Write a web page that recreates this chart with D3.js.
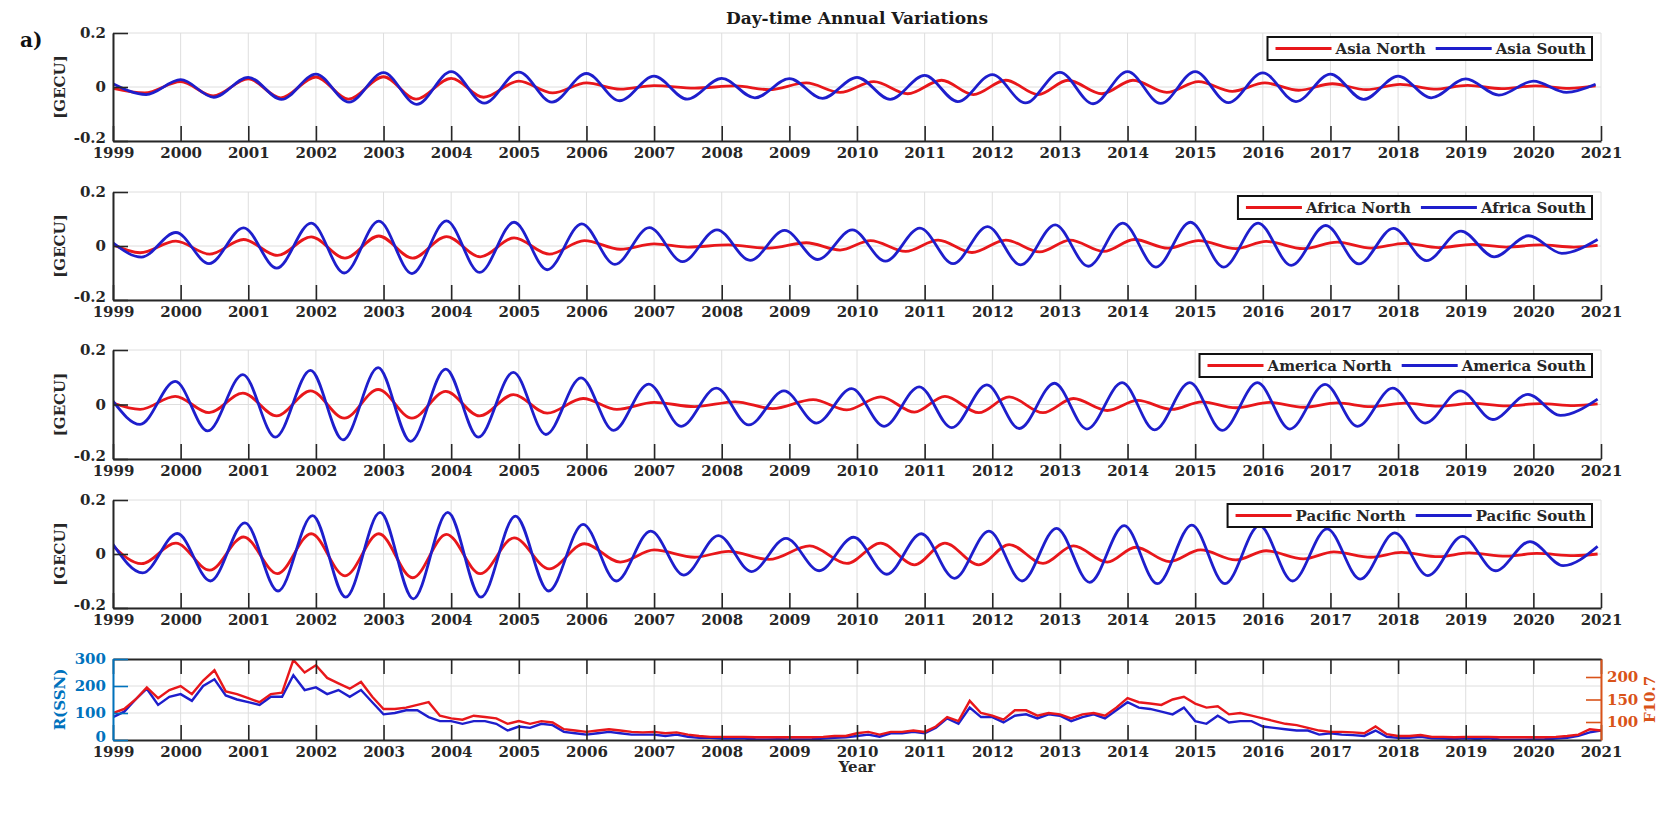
<!DOCTYPE html>
<html>
<head>
<meta charset="utf-8">
<script src="https://cdn.jsdelivr.net/npm/d3@7"></script>
<style>
  body { margin: 0; background: #ffffff; }
  svg text { font-family: "DejaVu Serif", serif; font-weight: bold; }
</style>
</head>
<body>
<svg id="chart" width="1664" height="818"></svg>
<script>
// ---- tick labels ----
const yearTicks = [1999, 2000, 2001, 2002, 2003, 2004, 2005, 2006, 2007, 2008, 2009, 2010,
                   2011, 2012, 2013, 2014, 2015, 2016, 2017, 2018, 2019, 2020, 2021];
const gecuTicks = [-0.2, 0, 0.2];
const ssnTicks = [0, 100, 200, 300];
const f107Ticks = [100, 150, 200];

// ---- regional annual components: turning points [year, GECU] ----
const asiaNorth = [[1999.0,-0.005],[1999.47,-0.022],[2000.0,0.02],[2000.48,-0.033],[2001.0,0.03],[2001.48,-0.04],
  [2002.0,0.037],[2002.48,-0.045],[2003.0,0.038],[2003.48,-0.045],[2004.0,0.032],[2004.48,-0.038],[2005.0,0.022],
  [2005.5,-0.022],[2006.0,0.015],[2006.5,-0.008],[2007.0,0.005],[2007.6,-0.004],[2008.2,0.004],[2008.7,-0.01],
  [2009.25,0.015],[2009.75,-0.02],[2010.25,0.02],[2010.75,-0.025],[2011.25,0.025],[2011.72,-0.028],[2012.2,0.025],
  [2012.68,-0.028],[2013.12,0.025],[2013.62,-0.025],[2014.08,0.025],[2014.58,-0.02],[2015.05,0.02],[2015.55,-0.016],
  [2016.03,0.015],[2016.53,-0.012],[2017.03,0.012],[2017.53,-0.01],[2018.03,0.01],[2018.53,-0.008],[2019.03,0.006],
  [2019.53,-0.006],[2020.03,0.004],[2020.53,-0.005],[2020.92,0.004]];
const asiaSouth = [[1999.0,0.012],[1999.49,-0.028],[2000.0,0.027],[2000.49,-0.038],[2001.0,0.036],[2001.49,-0.046],
  [2002.0,0.048],[2002.49,-0.056],[2003.0,0.053],[2003.49,-0.064],[2004.0,0.057],[2004.49,-0.06],[2005.0,0.055],
  [2005.49,-0.056],[2006.0,0.05],[2006.49,-0.051],[2007.0,0.04],[2007.49,-0.045],[2008.0,0.032],[2008.49,-0.04],
  [2009.0,0.031],[2009.49,-0.042],[2010.0,0.036],[2010.49,-0.046],[2011.0,0.043],[2011.49,-0.054],[2012.0,0.046],
  [2012.49,-0.059],[2013.0,0.054],[2013.49,-0.062],[2014.0,0.057],[2014.49,-0.061],[2015.0,0.057],[2015.49,-0.058],
  [2016.0,0.052],[2016.49,-0.054],[2017.0,0.048],[2017.49,-0.046],[2018.0,0.04],[2018.49,-0.04],[2019.0,0.03],
  [2019.49,-0.03],[2020.0,0.022],[2020.49,-0.02],[2020.92,0.01]];

const africaNorth = [[1999.0,0.005],[1999.4,-0.025],[1999.93,0.018],[2000.43,-0.03],[2000.93,0.024],[2001.43,-0.035],
  [2001.93,0.034],[2002.43,-0.045],[2002.93,0.037],[2003.43,-0.045],[2003.93,0.035],[2004.43,-0.04],[2004.93,0.03],
  [2005.45,-0.03],[2005.97,0.02],[2006.5,-0.012],[2007.0,0.008],[2007.5,-0.004],[2008.1,0.004],[2008.7,-0.008],
  [2009.25,0.012],[2009.75,-0.015],[2010.2,0.02],[2010.72,-0.02],[2011.2,0.022],[2011.7,-0.024],[2012.2,0.022],
  [2012.7,-0.022],[2013.15,0.022],[2013.65,-0.02],[2014.1,0.024],[2014.6,-0.008],[2015.05,0.02],[2015.6,-0.01],
  [2016.05,0.017],[2016.6,-0.01],[2017.1,0.014],[2017.6,-0.008],[2018.1,0.01],[2018.6,-0.006],[2019.1,0.006],
  [2019.6,-0.004],[2020.1,0.004],[2020.6,-0.004],[2020.95,0.002]];
const africaSouth = [[1999.0,0.012],[1999.42,-0.041],[1999.93,0.05],[2000.42,-0.065],[2000.93,0.067],[2001.42,-0.082],
  [2001.93,0.085],[2002.42,-0.1],[2002.93,0.092],[2003.42,-0.102],[2003.93,0.093],[2004.42,-0.098],[2004.93,0.088],
  [2005.42,-0.088],[2005.93,0.082],[2006.42,-0.068],[2006.93,0.068],[2007.42,-0.058],[2007.93,0.06],[2008.42,-0.053],
  [2008.93,0.058],[2009.42,-0.05],[2009.93,0.06],[2010.42,-0.056],[2010.93,0.066],[2011.42,-0.065],[2011.93,0.072],
  [2012.42,-0.07],[2012.93,0.078],[2013.42,-0.075],[2013.93,0.085],[2014.42,-0.078],[2014.93,0.088],[2015.42,-0.078],
  [2015.93,0.085],[2016.42,-0.072],[2016.93,0.076],[2017.42,-0.066],[2017.93,0.065],[2018.42,-0.054],[2018.93,0.055],
  [2019.42,-0.04],[2019.93,0.038],[2020.42,-0.027],[2020.95,0.024]];

const americaNorth = [[1999.0,0.005],[1999.4,-0.018],[1999.92,0.03],[2000.42,-0.03],[2000.92,0.042],[2001.42,-0.042],
  [2001.92,0.05],[2002.42,-0.05],[2002.92,0.055],[2003.42,-0.05],[2003.92,0.048],[2004.42,-0.042],[2004.92,0.036],
  [2005.42,-0.032],[2005.95,0.022],[2006.45,-0.018],[2007.0,0.008],[2007.6,-0.008],[2008.2,0.01],[2008.75,-0.015],
  [2009.35,0.018],[2009.85,-0.02],[2010.35,0.028],[2010.85,-0.028],[2011.3,0.03],[2011.8,-0.03],[2012.25,0.028],
  [2012.75,-0.03],[2013.2,0.022],[2013.7,-0.022],[2014.15,0.015],[2014.65,-0.018],[2015.1,0.01],[2015.6,-0.012],
  [2016.1,0.008],[2016.6,-0.01],[2017.1,0.006],[2017.6,-0.008],[2018.1,0.005],[2018.6,-0.006],[2019.1,0.004],
  [2019.6,-0.005],[2020.1,0.003],[2020.6,-0.004],[2020.95,0.002]];
const americaSouth = [[1999.0,0.012],[1999.4,-0.073],[1999.92,0.085],[2000.4,-0.097],[2000.92,0.11],[2001.4,-0.12],
  [2001.92,0.125],[2002.4,-0.13],[2002.92,0.135],[2003.4,-0.135],[2003.92,0.13],[2004.4,-0.12],[2004.92,0.118],
  [2005.4,-0.11],[2005.92,0.098],[2006.4,-0.095],[2006.92,0.075],[2007.4,-0.08],[2007.92,0.06],[2008.4,-0.075],
  [2008.92,0.05],[2009.4,-0.068],[2009.92,0.058],[2010.4,-0.08],[2010.92,0.065],[2011.4,-0.085],[2011.92,0.072],
  [2012.4,-0.088],[2012.92,0.078],[2013.4,-0.09],[2013.92,0.08],[2014.4,-0.093],[2014.92,0.08],[2015.4,-0.095],
  [2015.92,0.08],[2016.4,-0.09],[2016.92,0.074],[2017.4,-0.08],[2017.92,0.06],[2018.4,-0.068],[2018.92,0.05],
  [2019.4,-0.055],[2019.92,0.037],[2020.4,-0.04],[2020.95,0.02]];

const pacificNorth = [[1999.0,0.03],[1999.42,-0.036],[1999.93,0.04],[2000.43,-0.06],[2000.93,0.063],[2001.43,-0.073],
  [2001.93,0.075],[2002.43,-0.081],[2002.93,0.075],[2003.43,-0.088],[2003.93,0.073],[2004.43,-0.073],[2004.93,0.06],
  [2005.45,-0.055],[2005.97,0.038],[2006.5,-0.03],[2007.0,0.015],[2007.6,-0.012],[2008.1,0.01],[2008.7,-0.02],
  [2009.3,0.03],[2009.85,-0.035],[2010.35,0.04],[2010.85,-0.04],[2011.3,0.04],[2011.8,-0.04],[2012.25,0.035],
  [2012.75,-0.035],[2013.2,0.03],[2013.7,-0.03],[2014.12,0.025],[2014.62,-0.028],[2015.08,0.015],[2015.6,-0.022],
  [2016.05,0.012],[2016.6,-0.018],[2017.05,0.008],[2017.6,-0.012],[2018.05,0.006],[2018.6,-0.01],[2019.05,0.004],
  [2019.6,-0.008],[2020.05,0.002],[2020.6,-0.006],[2020.95,0.0]];
const pacificSouth = [[1999.0,0.036],[1999.44,-0.07],[1999.95,0.076],[2000.44,-0.1],[2000.95,0.115],[2001.44,-0.137],
  [2001.95,0.142],[2002.44,-0.16],[2002.95,0.154],[2003.44,-0.166],[2003.95,0.154],[2004.44,-0.16],[2004.95,0.14],
  [2005.44,-0.137],[2005.95,0.11],[2006.44,-0.1],[2006.95,0.085],[2007.44,-0.078],[2007.95,0.068],[2008.44,-0.065],
  [2008.95,0.058],[2009.44,-0.062],[2009.95,0.062],[2010.44,-0.075],[2010.95,0.075],[2011.44,-0.09],[2011.95,0.085],
  [2012.44,-0.1],[2012.95,0.095],[2013.44,-0.105],[2013.95,0.105],[2014.44,-0.11],[2014.95,0.107],[2015.44,-0.11],
  [2015.95,0.105],[2016.44,-0.1],[2016.95,0.093],[2017.44,-0.093],[2017.95,0.078],[2018.44,-0.08],[2018.95,0.065],
  [2019.44,-0.062],[2019.95,0.046],[2020.44,-0.043],[2020.95,0.028]];

// ---- solar activity, two-monthly samples from January 1999 ----
const sampleStart = 1999;
const samplesPerYear = 6;
const ssnValues = [
  85,105,150,190,130,160,  170,145,200,225,165,150,  140,130,160,160,240,185,  195,170,185,160,185,140,
  95,100,110,110,85,70,    70,60,70,70,60,35,        50,45,60,55,30,25,        20,25,30,25,20,20,
  20,15,20,12,8,8,         5,5,5,3,2,3,              2,2,3,5,8,10,             15,20,12,25,25,30,
  25,45,80,60,120,85,      85,65,90,95,80,95,        90,70,85,95,80,110,       140,120,115,105,95,120,
  70,60,90,65,70,70,       50,45,40,35,35,20,        25,20,18,15,35,12,        8,8,12,6,5,4,
  6,4,6,2,1,1,             2,3,5,8,15,28,            35];
const f107Values = [
  120,129,150,177,153,171, 180,162,192,215,168,162,  153,144,162,165,238,210,  226,198,186,174,189,156,
  129,129,132,138,144,114, 108,105,114,111,108,96,   102,96,102,99,84,81,      78,81,84,81,78,77,
  78,75,77,72,69,67,       67,67,67,66,66,66,        66,66,66,67,69,69,        75,78,72,78,78,81,
  78,90,111,102,147,120,   114,105,126,126,114,120,  117,108,117,120,114,132,  153,144,141,138,150,156,
  141,132,135,117,120,114, 108,102,96,93,87,81,      78,78,77,75,90,73,        69,69,71,67,67,66,
  67,67,67,66,66,66,       66,66,67,69,72,84,        81];

const regions = [
  { north: asiaNorth, south: asiaSouth, labels: ["Asia North", "Asia South"] },
  { north: africaNorth, south: africaSouth, labels: ["Africa North", "Africa South"] },
  { north: americaNorth, south: americaSouth, labels: ["America North", "America South"] },
  { north: pacificNorth, south: pacificSouth, labels: ["Pacific North", "Pacific South"] }
];

// ---- layout ----
const left = 113, right = 1601;
const panelBoxes = [[33, 141], [192, 300], [350, 459], [500, 608]];
const sunBox = [659, 740];

const RED = "#e8171b", BLUE = "#1e1ecc";
const AXIS = "#262626", GRID = "#dedede";
const LEFT_C = "#0072bd", RIGHT_C = "#d95319";
const FONT = 15;
const CURVE_W = 2.8;

const svg = d3.select("#chart");
const x = d3.scaleLinear().domain([1999, 2021]).range([left, right]);

function styleAxis(g, color) {
  g.attr("font-family", "DejaVu Serif, serif").attr("font-size", FONT).attr("font-weight", "bold");
  g.select(".domain").attr("stroke", color).attr("stroke-width", 2);
  g.selectAll(".tick line").attr("stroke", color).attr("stroke-width", 1.6);
  g.selectAll(".tick text").attr("fill", color);
}

function grid(g, y, vals, top, bottom) {
  g.append("g").selectAll("line").data(yearTicks).join("line")
    .attr("x1", d => x(d)).attr("x2", d => x(d)).attr("y1", top).attr("y2", bottom)
    .attr("stroke", GRID).attr("stroke-width", 1);
  g.append("g").selectAll("line").data(vals).join("line")
    .attr("x1", left).attr("x2", right).attr("y1", d => y(d)).attr("y2", d => y(d))
    .attr("stroke", GRID).attr("stroke-width", 1);
}

svg.append("text").attr("x", (left + right) / 2).attr("y", 24).attr("text-anchor", "middle")
  .attr("font-size", 17).attr("fill", "#1a1a1a").text("Day-time Annual Variations");
svg.append("text").attr("x", 20).attr("y", 47).attr("font-size", 20).attr("fill", "#111").text("a)");

const defs = svg.append("defs");

regions.forEach((r, i) => {
  const [top, bottom] = panelBoxes[i];
  const y = d3.scaleLinear().domain([-0.2, 0.2]).range([bottom, top]);
  const g = svg.append("g");
  grid(g, y, gecuTicks, top, bottom);

  defs.append("clipPath").attr("id", "clip" + i).append("rect")
    .attr("x", left).attr("y", top).attr("width", right - left).attr("height", bottom - top);

  const line = d3.line().x(d => x(d[0])).y(d => y(d[1])).curve(d3.curveMonotoneX);
  const curves = g.append("g").attr("clip-path", `url(#clip${i})`);
  curves.append("path").attr("d", line(r.north)).attr("fill", "none")
    .attr("stroke", RED).attr("stroke-width", CURVE_W);
  curves.append("path").attr("d", line(r.south)).attr("fill", "none")
    .attr("stroke", BLUE).attr("stroke-width", CURVE_W);

  const ax = g.append("g").attr("transform", `translate(0,${bottom})`)
    .call(d3.axisBottom(x).tickValues(yearTicks).tickFormat(d3.format("d"))
      .tickSize(-15).tickSizeOuter(0).tickPadding(6));
  styleAxis(ax, AXIS);
  const ay = g.append("g").attr("transform", `translate(${left},0)`)
    .call(d3.axisLeft(y).tickValues(gecuTicks).tickFormat(d => d === 0 ? "0" : String(d))
      .tickSize(-15).tickSizeOuter(0).tickPadding(7));
  styleAxis(ay, AXIS);
  // lowest value label sits a little higher so it clears the year label under it
  ay.selectAll(".tick text").filter(d => d === -0.2).attr("dy", "0.1em");

  g.append("text").attr("transform", `translate(60,${(top + bottom) / 2}) rotate(-90)`)
    .attr("text-anchor", "middle").attr("dy", "0.35em").attr("font-size", FONT).attr("fill", AXIS)
    .text("[GECU]");

  // legend (top right)
  const lg = g.append("g");
  const box = lg.append("rect").attr("fill", "#fff").attr("stroke", "#111").attr("stroke-width", 2);
  let cx = 0;
  r.labels.forEach((lab, k) => {
    const lx = cx + (k === 0 ? 8 : 10);
    lg.append("line").attr("x1", lx).attr("x2", lx + 56).attr("y1", 0).attr("y2", 0)
      .attr("stroke", k === 0 ? RED : BLUE).attr("stroke-width", CURVE_W);
    const t = lg.append("text").attr("x", lx + 60).attr("y", 0).attr("dy", "0.35em")
      .attr("font-size", FONT).attr("fill", AXIS).text(lab);
    cx = lx + 60 + t.node().getComputedTextLength();
  });
  const lw = cx + 6, lh = 23;
  box.attr("x", 0).attr("y", -lh / 2).attr("width", lw).attr("height", lh);
  lg.attr("transform", `translate(${right - 9 - lw},${top + 4 + lh / 2})`);
});

// ---- solar activity panel ----
{
  const [top, bottom] = sunBox;
  const yS = d3.scaleLinear().domain([0, 300]).range([bottom, top]);
  const yF = d3.scaleLinear().domain([60, 240]).range([bottom, top]);
  const g = svg.append("g");
  grid(g, yS, [100, 200], top, bottom);

  defs.append("clipPath").attr("id", "clipSun").append("rect")
    .attr("x", left).attr("y", top).attr("width", right - left).attr("height", bottom - top);
  const tOf = i => sampleStart + i / samplesPerYear;
  const curves = g.append("g").attr("clip-path", "url(#clipSun)");
  curves.append("path").attr("fill", "none").attr("stroke", BLUE).attr("stroke-width", 2.4)
    .attr("d", d3.line().x((d, i) => x(tOf(i))).y(d => yS(d))(ssnValues));
  curves.append("path").attr("fill", "none").attr("stroke", RED).attr("stroke-width", 2.4)
    .attr("d", d3.line().x((d, i) => x(tOf(i))).y(d => yF(d))(f107Values));

  const ax = g.append("g").attr("transform", `translate(0,${bottom})`)
    .call(d3.axisBottom(x).tickValues(yearTicks).tickFormat(d3.format("d"))
      .tickSize(-15).tickSizeOuter(0).tickPadding(6));
  styleAxis(ax, AXIS);
  const at = g.append("g").attr("transform", `translate(0,${top})`)
    .call(d3.axisTop(x).tickValues(yearTicks).tickFormat("").tickSize(-15).tickSizeOuter(0));
  styleAxis(at, AXIS);
  const al = g.append("g").attr("transform", `translate(${left},0)`)
    .call(d3.axisLeft(yS).tickValues(ssnTicks).tickSize(-15).tickSizeOuter(0).tickPadding(7));
  styleAxis(al, LEFT_C);
  al.selectAll(".tick text").filter(d => d === 0).attr("dy", "0.1em");
  const ar = g.append("g").attr("transform", `translate(${right},0)`)
    .call(d3.axisRight(yF).tickValues(f107Ticks).tickSize(-15).tickSizeOuter(0).tickPadding(6));
  styleAxis(ar, RIGHT_C);

  g.append("text").attr("transform", `translate(60,${(top + bottom) / 2}) rotate(-90)`)
    .attr("text-anchor", "middle").attr("dy", "0.35em").attr("font-size", FONT).attr("fill", LEFT_C)
    .text("R(SSN)");
  g.append("text").attr("transform", `translate(1650,${(top + bottom) / 2}) rotate(-90)`)
    .attr("text-anchor", "middle").attr("dy", "0.35em").attr("font-size", FONT).attr("fill", RIGHT_C)
    .text("F10.7");
  g.append("text").attr("x", (left + right) / 2).attr("y", bottom + 32).attr("text-anchor", "middle")
    .attr("font-size", FONT).attr("fill", AXIS).text("Year");
}
</script>
</body>
</html>
